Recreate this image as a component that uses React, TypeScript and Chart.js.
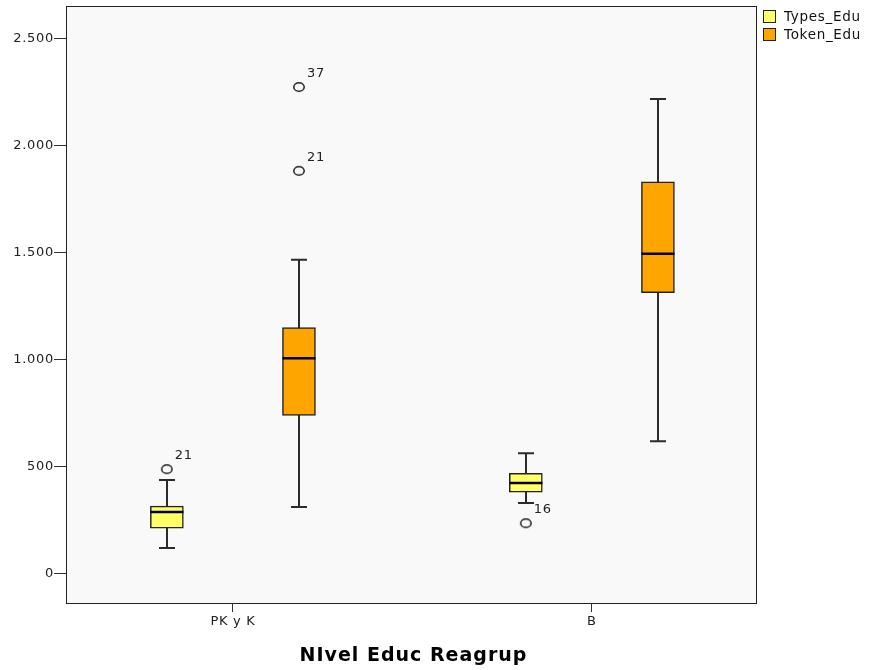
import { useEffect, useRef } from 'react';
import { Chart, registerables } from 'chart.js';

Chart.register(...registerables);

// ---------- data ----------
const categories = ['PK y K', 'B'];
const seriesNames = ['Types_Edu', 'Token_Edu'];
const seriesColors = ['#FFFF66', '#FFA500'];

const typesMin = [121, 331];
const typesQ1 = [214, 382];
const typesMedian = [289, 424];
const typesQ3 = [317, 470];
const typesMax = [438, 563];
const typesOutliers = [[489], [237]];
const typesOutlierIds = [['21'], ['16']];

const tokenMin = [312, 619];
const tokenQ1 = [740, 1313];
const tokenMedian = [1006, 1494];
const tokenQ3 = [1150, 1830];
const tokenMax = [1466, 2216];
const tokenOutliers = [[2272, 1881], []];
const tokenOutlierIds = [['37', '21'], []];

const yTickValues = [0, 500, 1000, 1500, 2000, 2500];
const xTitle = 'NIvel Educ Reagrup';

// ---------- layout / style ----------
const FONT = '"DejaVu Sans", "Liberation Sans", Arial, sans-serif';
const GROUP_OFFSET = [-0.184, 0.184];
const BOX_WIDTH = 33;
const CAP_WIDTH = 16;

const series = [
  { name: seriesNames[0], color: seriesColors[0], min: typesMin, q1: typesQ1, med: typesMedian, q3: typesQ3, max: typesMax, out: typesOutliers, ids: typesOutlierIds },
  { name: seriesNames[1], color: seriesColors[1], min: tokenMin, q1: tokenQ1, med: tokenMedian, q3: tokenQ3, max: tokenMax, out: tokenOutliers, ids: tokenOutlierIds },
];

const fmt = (v: number) => String(Math.round(v)).replace(/\B(?=(\d{3})+(?!\d))/g, '.');

function makeOutlierMarker(): HTMLCanvasElement {
  const c = document.createElement('canvas');
  c.width = 14;
  c.height = 12;
  const g = c.getContext('2d')!;
  g.strokeStyle = '#1e1e1e';
  g.lineWidth = 1.5;
  g.beginPath();
  g.ellipse(7, 6, 5.2, 4.3, 0, 0, Math.PI * 2);
  g.stroke();
  return c;
}

const boxPlugin = {
  id: 'boxExtras',
  beforeDraw(chart: any) {
    const { ctx, chartArea: a } = chart;
    ctx.letterSpacing = '0.7px';
    ctx.save();
    ctx.fillStyle = '#ffffff';
    ctx.fillRect(0, 0, chart.width, chart.height);
    ctx.fillStyle = '#F9F9F9';
    ctx.fillRect(a.left, a.top, a.right - a.left, a.bottom - a.top);
    ctx.restore();
  },
  beforeDatasetsDraw(chart: any) {
    const { ctx } = chart;
    const xs = chart.scales.x;
    const ys = chart.scales.y;
    ctx.save();
    ctx.strokeStyle = '#2b2b2b';
    ctx.lineWidth = 2;
    series.forEach((s, si) => {
      categories.forEach((_, ci) => {
        const x = Math.round(xs.getPixelForValue(ci + GROUP_OFFSET[si]));
        const yMin = ys.getPixelForValue(s.min[ci]);
        const yMax = ys.getPixelForValue(s.max[ci]);
        ctx.beginPath();
        ctx.moveTo(x, yMin);
        ctx.lineTo(x, yMax);
        ctx.moveTo(x - CAP_WIDTH / 2, yMin);
        ctx.lineTo(x + CAP_WIDTH / 2, yMin);
        ctx.moveTo(x - CAP_WIDTH / 2, yMax);
        ctx.lineTo(x + CAP_WIDTH / 2, yMax);
        ctx.stroke();
      });
    });
    ctx.restore();
  },
  afterDatasetsDraw(chart: any) {
    const { ctx, chartArea: a } = chart;
    const xs = chart.scales.x;
    const ys = chart.scales.y;
    ctx.save();
    // medians
    ctx.strokeStyle = '#000000';
    ctx.lineWidth = 2.5;
    series.forEach((s, si) => {
      categories.forEach((_, ci) => {
        const x = Math.round(xs.getPixelForValue(ci + GROUP_OFFSET[si]));
        const y = ys.getPixelForValue(s.med[ci]);
        ctx.beginPath();
        ctx.moveTo(x - BOX_WIDTH / 2, y);
        ctx.lineTo(x + BOX_WIDTH / 2, y);
        ctx.stroke();
      });
    });
    // outlier labels
    ctx.fillStyle = '#222222';
    ctx.font = `13px ${FONT}`;
    ctx.letterSpacing = '0.7px';
    ctx.textAlign = 'left';
    ctx.textBaseline = 'alphabetic';
    chart.data.datasets.forEach((ds: any, di: number) => {
      if (ds.type !== 'scatter') return;
      const meta = chart.getDatasetMeta(di);
      meta.data.forEach((pt: any, i: number) => {
        ctx.fillText(ds.data[i].id, pt.x + 8, pt.y - 10);
      });
    });
    // frame
    ctx.strokeStyle = '#222222';
    ctx.lineWidth = 1;
    ctx.strokeRect(a.left + 0.5, a.top + 0.5, a.right - a.left - 1, a.bottom - a.top - 1);
    ctx.restore();
  },
  afterDraw(chart: any) {
    const { ctx, chartArea: a } = chart;
    ctx.save();
    // legend
    ctx.font = `13.5px ${FONT}`;
    ctx.letterSpacing = '0.7px';
    ctx.textAlign = 'left';
    ctx.textBaseline = 'middle';
    series.forEach((s, si) => {
      const y = 10 + si * 18;
      ctx.fillStyle = s.color;
      ctx.fillRect(a.right + 6, y, 13, 13);
      ctx.strokeStyle = '#222222';
      ctx.lineWidth = 1;
      ctx.strokeRect(a.right + 6.5, y + 0.5, 12, 12);
      ctx.fillStyle = '#111111';
      ctx.fillText(s.name, a.right + 27, y + 7);
    });
    // x title
    ctx.font = `bold 19px ${FONT}`;
    ctx.letterSpacing = '1px';
    ctx.textAlign = 'center';
    ctx.textBaseline = 'middle';
    ctx.fillStyle = '#000000';
    ctx.fillText(xTitle, (a.left + a.right) / 2 + 2, 656);
    ctx.restore();
  },
};

export default function App() {
  const ref = useRef<HTMLCanvasElement>(null);

  useEffect(() => {
    const canvas = ref.current;
    if (!canvas) return;
    Chart.defaults.font.family = FONT;
    const marker = makeOutlierMarker();

    const datasets: any[] = [];
    series.forEach((s, si) => {
      datasets.push({
        type: 'bar',
        label: s.name,
        data: categories.map((_, ci) => ({ x: ci + GROUP_OFFSET[si], y: [s.q1[ci], s.q3[ci]] })),
        backgroundColor: s.color,
        borderColor: '#222222',
        borderWidth: 1.5,
        borderSkipped: false,
        barThickness: BOX_WIDTH,
        grouped: false,
      });
    });
    series.forEach((s, si) => {
      const pts: any[] = [];
      categories.forEach((_, ci) => {
        s.out[ci].forEach((v, k) => pts.push({ x: ci + GROUP_OFFSET[si], y: v, id: s.ids[ci][k] }));
      });
      datasets.push({
        type: 'scatter',
        label: s.name + ' outliers',
        data: pts,
        pointStyle: marker,
        pointRadius: 5,
        showLine: false,
      });
    });

    const chart = new Chart(canvas, {
      type: 'bar',
      data: { datasets },
      plugins: [boxPlugin],
      options: {
        animation: false,
        responsive: false,
        events: [],
        layout: { padding: { top: 5, right: 114, bottom: 0, left: 0 } },
        plugins: { legend: { display: false }, tooltip: { enabled: false } },
        scales: {
          x: {
            type: 'linear',
            min: -0.465,
            max: 1.46,
            offset: false,
            grid: { display: true, offset: false, drawOnChartArea: false, drawTicks: true, tickLength: 8, color: '#333333' },
            border: { display: false },
            afterBuildTicks: (scale: any) => {
              scale.ticks = categories.map((_, i) => ({ value: i }));
            },
            afterFit: (scale: any) => {
              scale.height = 66;
              scale.paddingLeft = 0;
              scale.paddingRight = 0;
            },
            ticks: {
              autoSkip: false,
              maxRotation: 0,
              padding: 2,
              color: '#222222',
              font: { size: 13, family: FONT },
              callback: (v: any) => categories[Number(v)] ?? '',
            },
          },
          y: {
            type: 'linear',
            min: -140,
            max: 2650,
            beginAtZero: false,
            grid: { display: true, drawOnChartArea: false, drawTicks: true, tickLength: 12, color: '#333333' },
            border: { display: false },
            afterBuildTicks: (scale: any) => {
              scale.ticks = yTickValues.map((v) => ({ value: v }));
            },
            afterFit: (scale: any) => {
              scale.width = 66;
              scale.paddingTop = 0;
              scale.paddingBottom = 0;
            },
            ticks: {
              padding: 0,
              color: '#222222',
              font: { size: 13, family: FONT },
              callback: (v: any) => fmt(Number(v)),
            },
          },
        },
      } as any,
    });
    return () => chart.destroy();
  }, []);

  return (
    <div style={{ position: 'absolute', left: 0, top: 0, width: 871, height: 670, background: '#ffffff' }}>
      <canvas ref={ref} width={871} height={670} style={{ display: 'block', width: 871, height: 670 }} />
    </div>
  );
}
